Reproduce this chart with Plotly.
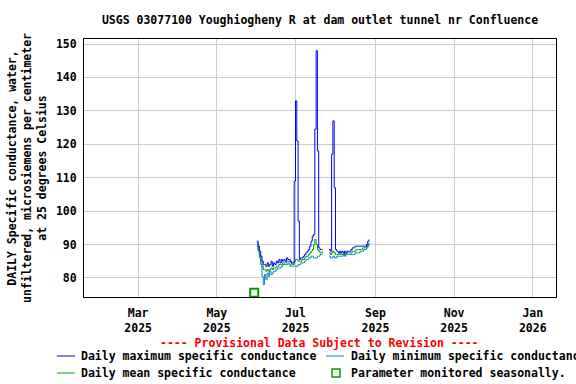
import plotly.graph_objects as go
import pandas as pd

# ---- data ----
dates = pd.date_range("2025-06-01", "2025-08-27", freq="D").strftime("%Y-%m-%d").tolist()

daily_max = [
    # June 1-30
    91, 89.5, 88, 86.5, 85, 84, 84, 83.5, 84.5, 83.5,
    84, 85, 83.5, 84.5, 84, 85, 84.5, 85.5, 84.5, 85.5,
    85, 85.5, 85, 86, 85.5, 85.5, 85, 84.5, 84.5, 109,
    # July 1-31
    133, 121, 97, 85.5, 86, 86, 86.5, 87, 87.5, 88,
    88.5, 89.5, 91, 92.5, 93, 124.5, 148, 118, 89, 88.5,
    88.5, 88.5, None, None, None, None, 88.5, 88, 117, 127,
    107,
    # August 1-27
    88.5, 88, 87.5, 88, 87.5, 88, 87.5, 88, 87.5, 88,
    88, 88, 88.5, 89, 89, 89.5, 89.5, 89.5, 89.5, 89.5,
    89.5, 89.5, 89.5, 89.5, 90, 91, 91.5,
]

daily_min = [
    # June
    89.5, 88, 86, 84, 80.5, 78, 81, 79.5, 81.5, 80.5,
    82, 81, 81.5, 82, 82, 82.5, 83, 83, 83, 83.5,
    84, 84, 84, 84, 84.5, 84, 83.5, 83.5, 83.5, 83.5,
    # July
    83.5, 83.5, 84, 84, 84.5, 84.5, 84.5, 85, 85.5, 85.5,
    86, 86, 86.5, 86.5, 86, 86, 86, 86.5, 86.5, 87,
    87, 87, None, None, None, None, 86.5, 86, 86, 86.5,
    86,
    # August
    86, 86.5, 86.5, 86.5, 86.5, 86.5, 87, 86.5, 87, 87,
    87, 87, 87, 87, 87, 87.5, 87.5, 87.5, 87.5, 88,
    88, 88, 88.5, 88.5, 89, 89.5, 90,
]

daily_mean = [
    # June
    90.5, 88.5, 87, 85, 83.5, 82.5, 82.5, 82, 82.5, 82,
    82.5, 83, 82.5, 83, 83, 83.5, 83.5, 84, 84, 84,
    84.5, 84.5, 84.5, 85, 85, 85, 84.5, 84, 84, 85,
    # July
    85.5, 85.5, 85, 85, 85, 85.5, 85.5, 86, 86.5, 86.5,
    87, 87.5, 88, 88.5, 90, 91.5, 90, 88.5, 88, 87.5,
    87.5, 88, None, None, None, None, 87.5, 87, 87.5, 88,
    87.5,
    # August
    87, 87, 87, 87.5, 87, 87, 87.5, 87, 87.5, 87.5,
    87.5, 87.5, 87.5, 88, 88, 88, 88.5, 88.5, 88.5, 88.5,
    88.5, 89, 89, 89, 89.5, 90, 90.5,
]

seasonal_dates = ["2025-05-30"]
seasonal_vals = [75.6]

tick_dates = ["2025-03-01", "2025-05-01", "2025-07-01", "2025-09-01", "2025-11-01", "2026-01-01"]
tick_labels = ["Mar<br>2025", "May<br>2025", "Jul<br>2025", "Sep<br>2025", "Nov<br>2025", "Jan<br>2026"]
y_ticks = [80, 90, 100, 110, 120, 130, 140, 150]

# ---- styling ----
FONT = "DejaVu Sans Mono"
FS = 11.5
C_MAX = "#0000FF"
C_MIN = "#0088CC"
C_MEAN = "#00A000"
C_SEAS = "#009900"

W, H = 576, 384
L, R, T, B = 84, 556, 39, 297
pw, ph = R - L, B - T


def px(x):
    return (x - L) / pw


def py(y):
    return (B - y) / ph


fig = go.Figure()
fig.add_trace(go.Scatter(x=dates, y=daily_min, mode="lines", line=dict(color=C_MIN, width=1, shape="hv"),
                         connectgaps=False, showlegend=False))
fig.add_trace(go.Scatter(x=dates, y=daily_mean, mode="lines", line=dict(color=C_MEAN, width=1, shape="hv"),
                         connectgaps=False, showlegend=False))
fig.add_trace(go.Scatter(x=dates, y=daily_max, mode="lines", line=dict(color=C_MAX, width=1, shape="hv"),
                         connectgaps=False, showlegend=False))
fig.add_trace(go.Scatter(x=seasonal_dates, y=seasonal_vals, mode="markers",
                         marker=dict(symbol="square-open", size=8, color=C_SEAS, line=dict(width=2, color=C_SEAS)),
                         showlegend=False, cliponaxis=False))

font = dict(family=FONT, size=FS, color="black", weight="bold")

fig.update_layout(
    width=W, height=H,
    margin=dict(l=L, r=W - R, t=T, b=H - B, pad=0, autoexpand=False),
    paper_bgcolor="white", plot_bgcolor="white",
    font=font,
    title=dict(text="USGS 03077100 Youghiogheny R at dam outlet tunnel nr Confluence",
               x=0.5, xref="paper", y=1 - 20 / H, yanchor="middle", font=font),
    xaxis=dict(range=["2025-01-18", "2026-01-19"], tickvals=tick_dates, ticktext=tick_labels,
               showgrid=True, gridcolor="#CCCCCC", gridwidth=1, showline=True, linecolor="black",
               linewidth=1, mirror=True, ticks="", zeroline=False, tickfont=font, ticklabelstandoff=5),
    yaxis=dict(range=[74.3, 151.5], tickvals=y_ticks, showgrid=True, gridcolor="#CCCCCC", gridwidth=1,
               showline=True, linecolor="black", linewidth=1, mirror=True, ticks="", zeroline=False,
               tickfont=font, ticklabelstandoff=4,
               title=dict(text="DAILY Specific conductance, water,<br>unfiltered, microsiemens per centimeter<br>at 25 degrees Celsius",
                          font=font, standoff=6)),
    hovermode=False,
)

ann = []
ann.append(dict(text="---- Provisional Data Subject to Revision ----", x=px(319), y=py(343), xref="paper", yref="paper",
                showarrow=False, xanchor="center", yanchor="middle", font=dict(family=FONT, size=FS, color="red", weight="bold")))
legend_items = [
    ("Daily maximum specific conductance", 80, 356),
    ("Daily minimum specific conductance", 350, 356),
    ("Daily mean specific conductance", 80, 373),
    ("Parameter monitored seasonally.", 350, 373),
]
for text, x, y in legend_items:
    ann.append(dict(text=text, x=px(x), y=py(y), xref="paper", yref="paper", showarrow=False,
                    xanchor="left", yanchor="middle", font=font, borderpad=0))
fig.update_layout(annotations=ann)

shapes = [
    dict(type="line", xref="paper", yref="paper", x0=px(57), x1=px(75), y0=py(356), y1=py(356), line=dict(color=C_MAX, width=1)),
    dict(type="line", xref="paper", yref="paper", x0=px(326), x1=px(344), y0=py(356), y1=py(356), line=dict(color=C_MIN, width=1)),
    dict(type="line", xref="paper", yref="paper", x0=px(57), x1=px(75), y0=py(373), y1=py(373), line=dict(color=C_MEAN, width=1)),
    dict(type="rect", xref="paper", yref="paper", x0=px(332), x1=px(340), y0=py(369), y1=py(377), line=dict(color=C_SEAS, width=1.5)),
]
fig.update_layout(shapes=shapes)

fig.write_html("out.html", config={"displayModeBar": False},
               post_script="document.body.style.margin='0';document.body.style.overflow='hidden';")
